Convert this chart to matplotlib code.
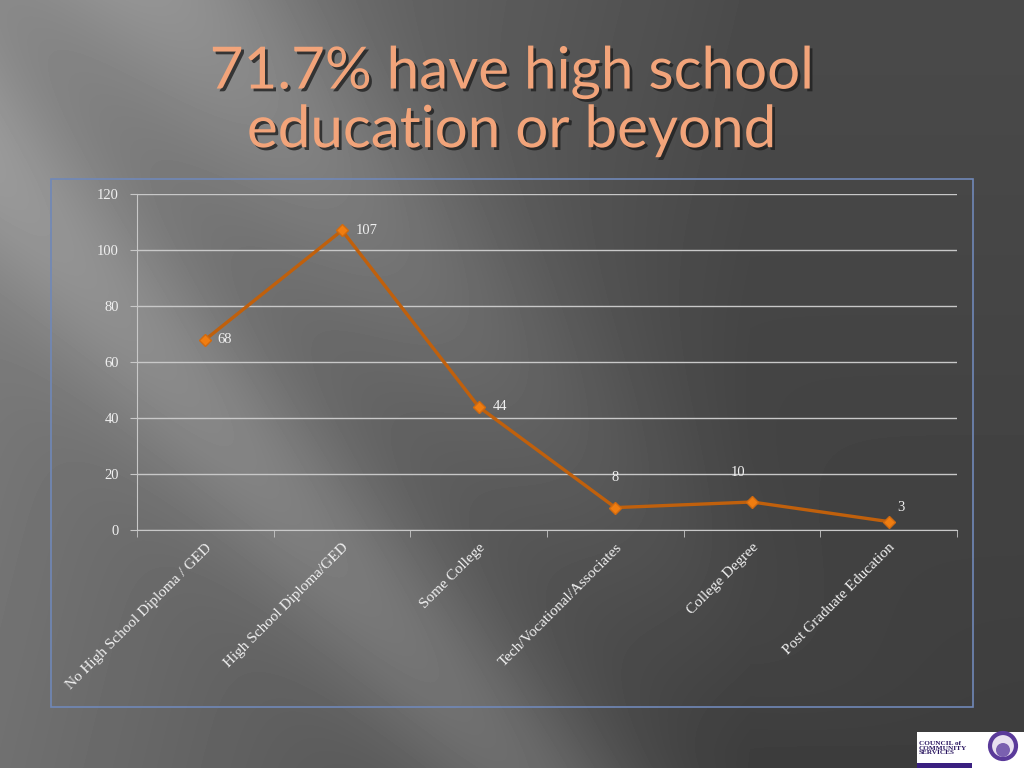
import numpy as np
import matplotlib
matplotlib.use("Agg")
import matplotlib.pyplot as plt
import matplotlib.patheffects as pe
from matplotlib.patches import Rectangle, Circle

# data
categories = ["No High School Diploma / GED", "High School Diploma/GED", "Some College",
              "Tech/Vocational/Associates", "College Degree", "Post Graduate Education"]
counts = [68, 107, 44, 8, 10, 3]
yticks = [0, 20, 40, 60, 80, 100, 120]
title = "71.7% have high school\neducation or beyond"

# label offsets in points (style only)
label_offsets = [(9, 0), (10, 0), (10, 0), (0, 22), (-10, 21), (6, 10)]
label_ha = ["left", "left", "left", "center", "center", "left"]

fig = plt.figure(figsize=(10.24, 7.68), dpi=100)

# slide background: dark gray with light diagonal sheen bands on the left
bg = fig.add_axes([0, 0, 1, 1])
H, W = 768, 1024
yy, xx = np.mgrid[0:H, 0:W]
base = 0.29 + 0.20 * np.clip(1 - xx / 750, 0, 1) - 0.05 * (yy / H)
d1 = (xx - (170 + 0.87 * yy)) / 140.0
band1 = 0.13 * np.exp(-d1 ** 2) * np.clip(1 - yy / 750, 0, 1)
d2 = (xx - (-150 + 0.87 * yy)) / 110.0
band2 = 0.12 * np.exp(-d2 ** 2)
img = np.clip(base + band1 + band2, 0, 1)
bg.imshow(img, cmap="gray", vmin=0, vmax=1, extent=[0, W, H, 0], aspect="auto")
bg.set_xlim(0, W)
bg.set_ylim(H, 0)
bg.axis("off")

# chart frame
bg.add_patch(Rectangle((51, 179), 922, 528, fill=False, edgecolor="#7088b8", lw=1.2))

# title
fig.text(0.5, 0.868, title, ha="center", va="center", fontsize=42, family="Lato",
         color="#f2a47a", linespacing=1.12,
         path_effects=[pe.withSimplePatchShadow(offset=(2, -2), shadow_rgbFace="#202020", alpha=0.8)])

# logo box bottom right
bg.add_patch(Rectangle((917, 732), 107, 36, facecolor="white", edgecolor="none"))
bg.text(919, 748, "COUNCIL of\nCOMMUNITY\nSERVICES", fontsize=5.2, family="Liberation Serif",
        color="#2a1660", va="center", ha="left", fontweight="bold", linespacing=0.9)
bg.add_patch(Rectangle((917, 763), 55, 5, facecolor="#3a2080", edgecolor="none"))
bg.add_patch(Circle((1003, 746), 13, facecolor="#e8e0f0", edgecolor="#5a3a9a", lw=3))
bg.add_patch(Circle((1003, 750), 7, facecolor="#7a60b0", edgecolor="none"))

ax = fig.add_axes([137 / 1024, 1 - 530 / 768, 820 / 1024, 336 / 768])
ax.patch.set_alpha(0)
x = np.arange(len(categories))
ax.plot(x, counts, color="#c0600c", lw=2.4, marker="D", markersize=6,
        markerfacecolor="#f07d10", markeredgecolor="#d06a10", zorder=3)

for i, v in enumerate(counts):
    ax.annotate(str(v), (x[i], v), xytext=label_offsets[i], textcoords="offset points",
                ha=label_ha[i], va="center", fontsize=10.5, family="Liberation Serif",
                color="#f0f0f0")

ax.set_xlim(-0.5, len(categories) - 0.5)
ax.set_ylim(0, 120)
ax.set_yticks(yticks)
ax.set_yticklabels([str(t) for t in yticks], fontsize=10.5, family="Liberation Serif", color="#f0f0f0")
ax.yaxis.grid(True, color="#c8c8c8", lw=1)
ax.set_axisbelow(True)

ax.set_xticks(x)
ax.set_xticklabels(categories, rotation=45, ha="right", va="top", rotation_mode="anchor",
                   fontsize=11, family="Liberation Serif", color="#f0f0f0")
ax.tick_params(axis="x", which="major", length=0, pad=8)
ax.set_xticks(np.arange(-0.5, len(categories)), minor=True)
ax.tick_params(axis="x", which="minor", length=5, color="#c8c8c8", direction="out")
ax.tick_params(axis="y", length=5, color="#c8c8c8", pad=8)

for s in ["top", "right"]:
    ax.spines[s].set_visible(False)
ax.spines["left"].set_color("#c8c8c8")
ax.spines["bottom"].set_color("#c8c8c8")

fig.savefig("out.png", dpi=100)
